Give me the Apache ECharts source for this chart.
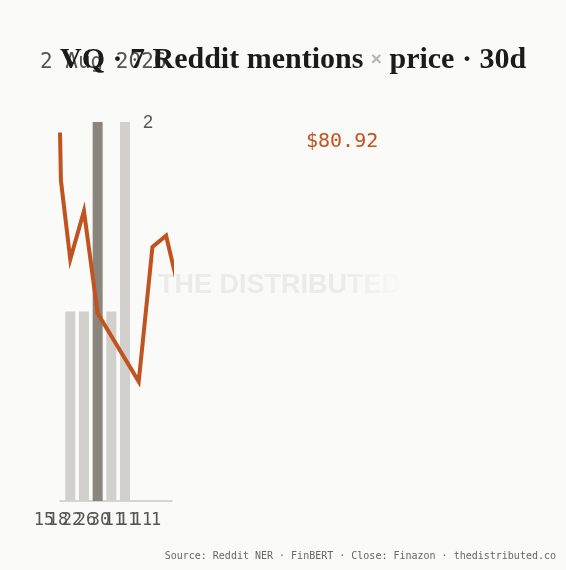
<!DOCTYPE html>
<html>
<head>
<meta charset="utf-8">
<script src="https://cdn.jsdelivr.net/npm/echarts@6/dist/echarts.min.js"></script>
<style>
  html, body { margin: 0; padding: 0; background: #fafaf8; }
  #chart { width: 566px; height: 570px; }
</style>
</head>
<body>
<div id="chart"></div>
<script>
// 数据：提及次数（柱）与收盘价（线），x 为天序号
const ticker = 'VQ';
const mentionDays = [0, 1, 2, 3, 4];
const mentionCounts = [1, 1, 2, 1, 2];
const highlightIndex = 2;
const priceDays = [-0.75, -0.68, 0, 1, 2, 5, 6, 7, 8];
const prices = [89.45, 86.9, 82.75, 85.3, 79.9, 76.3, 83.4, 84.0, 80.92];
const xTickLabels = ['15', '18', '22', '26', '30', '11', '11', '11', '1'];
const dateLabel = '2 Aug 2026';

const totalMentions = mentionCounts.reduce((a, b) => a + b, 0);
const lastPrice = prices[prices.length - 1];
const maxCount = Math.max.apply(null, mentionCounts);

const mono = 'DejaVu Sans Mono';
const orange = '#c0531f';
const bg = '#fafaf8';

const chart = echarts.init(document.getElementById('chart'));

chart.setOption({
    backgroundColor: bg,
    animation: false,
    title: {
        left: 60,
        top: 45,
        padding: 0,
        z: 10,
        text: '{t|' + ticker + ' · ' + totalMentions + ' Reddit mentions }{x|×}{t| price · 30d}',
        textStyle: {
            rich: {
                t: { fontFamily: 'Liberation Serif', fontWeight: 'bold', fontSize: 30, color: '#1b1b1b' },
                x: { fontFamily: 'Liberation Sans', fontSize: 19, color: '#b5b5b2' }
            }
        }
    },
    graphic: [
        {
            type: 'text', z: 0, left: 158, top: 272, silent: true,
            style: {
                text: 'THE DISTRIBUTED',
                font: 'bold 27px "Liberation Sans"',
                fill: '#ebebe9'
            }
        },
        {
            // 水印右端淡出
            type: 'rect', z: 0, silent: true,
            shape: { x: 340, y: 268, width: 66, height: 36 },
            style: {
                fill: new echarts.graphic.LinearGradient(0, 0, 1, 0, [
                    { offset: 0, color: 'rgba(250,250,248,0)' },
                    { offset: 1, color: 'rgba(250,250,248,0.95)' }
                ])
            }
        },
        {
            type: 'text', z: 1, left: 40, top: 52,
            style: { text: dateLabel, font: '21px "' + mono + '"', fill: '#555' }
        },
        {
            type: 'text', z: 1, left: 306, top: 132,
            style: { text: '$' + lastPrice.toFixed(2), font: '20px "' + mono + '"', fill: orange }
        },
        {
            type: 'text', z: 1, right: 10, top: 551,
            style: {
                text: 'Source: Reddit NER · FinBERT · Close: Finazon · thedistributed.co',
                font: '10px "' + mono + '"', fill: '#666'
            }
        }
    ],
    grid: { left: 60, right: 394, top: 122, bottom: 69 },
    xAxis: [
        {
            type: 'value', min: -0.75, max: 7.43,
            axisLine: { show: true, lineStyle: { color: '#c8c8c5', width: 1.5 } },
            axisTick: { show: false },
            axisLabel: { show: false },
            splitLine: { show: false }
        },
        {
            type: 'category', position: 'bottom', boundaryGap: false,
            data: xTickLabels,
            axisLine: { show: false },
            axisTick: { show: false },
            axisLabel: {
                interval: 0, margin: 11,
                fontFamily: mono, fontSize: 17, color: '#555',
                padding: [0, 32, 0, 0]
            }
        }
    ],
    yAxis: [
        { type: 'value', min: 0, max: maxCount, show: false },
        { type: 'value', min: 70, max: 90, show: false }
    ],
    series: [
        {
            type: 'bar',
            xAxisIndex: 0, yAxisIndex: 0,
            barWidth: 10,
            data: mentionDays.map((d, i) => ({
                value: [d, mentionCounts[i]],
                itemStyle: { color: i === highlightIndex ? '#8a867e' : '#d1d0cc' },
                label: i === mentionDays.length - 1 ? {
                    show: true, position: [23, 1], align: 'left', verticalAlign: 'middle',
                    formatter: String(mentionCounts[i]),
                    fontFamily: 'Liberation Sans', fontSize: 18, color: '#555'
                } : { show: false }
            }))
        },
        {
            type: 'line',
            xAxisIndex: 0, yAxisIndex: 1,
            clip: true,
            symbol: 'none',
            z: 5,
            lineStyle: { color: orange, width: 4, join: 'miter' },
            data: priceDays.map((d, i) => [d, prices[i]])
        }
    ]
});
</script>
</body>
</html>
